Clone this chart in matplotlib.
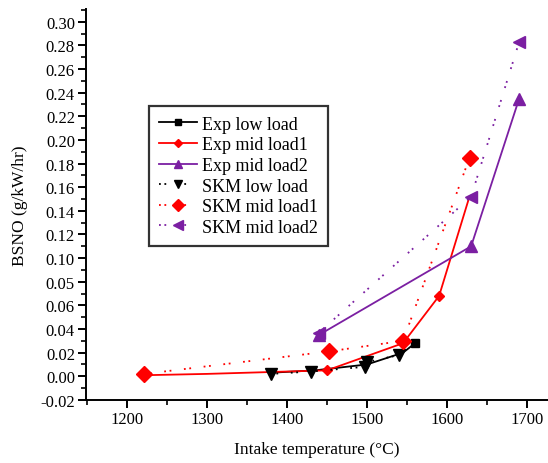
import matplotlib
matplotlib.use('Agg')
from matplotlib import pyplot as plt
from matplotlib.ticker import MultipleLocator

# data
exp_low_x = [1380, 1435, 1500, 1545, 1560]
exp_low_y = [0.003, 0.005, 0.010, 0.020, 0.028]
exp_mid1_x = [1230, 1300, 1450, 1545, 1590, 1627]
exp_mid1_y = [0.001, 0.002, 0.005, 0.028, 0.068, 0.150]
exp_mid2_x = [1440, 1630, 1690]
exp_mid2_y = [0.035, 0.110, 0.235]
skm_low_x = [1380, 1430, 1497, 1500, 1540]
skm_low_y = [0.002, 0.004, 0.008, 0.012, 0.018]
skm_mid1_x = [1222, 1452, 1545, 1628]
skm_mid1_y = [0.002, 0.021, 0.030, 0.185]
skm_mid2_x = [1440, 1630, 1690]
skm_mid2_y = [0.037, 0.152, 0.283]

ytick_vals = [-0.02, 0.00, 0.02, 0.04, 0.06, 0.08, 0.10, 0.12, 0.14,
              0.16, 0.18, 0.20, 0.22, 0.24, 0.26, 0.28, 0.30]
ytick_labels = ['-0.02', '0.00', '0.02', '0.04', '0.06', '0.05', '0.10',
                '0.12', '0.14', '0.16', '0.18', '0.20', '0.22', '0.24',
                '0.26', '0.28', '0.30']

plt.rcParams['font.family'] = ['Liberation Serif', 'DejaVu Serif']

purple = '#7b1fa2'
dots = (0, (1, 2, 1, 7))

fig = plt.figure(figsize=(5.48, 4.64), dpi=100)
ax = fig.add_axes([0.157, 0.136, 0.843, 0.843])

ax.plot(exp_low_x, exp_low_y, '-', color='black', lw=1.3,
        marker='s', ms=6, markevery=[4], label='Exp low load')
ax.plot(exp_mid1_x, exp_mid1_y, '-', color='red', lw=1.3,
        marker='D', ms=5, markevery=[2, 4], label='Exp mid load1')
ax.plot(exp_mid2_x, exp_mid2_y, '-', color=purple, lw=1.3,
        marker='^', ms=8, label='Exp mid load2')
ax.plot(skm_low_x, skm_low_y, linestyle=dots, color='black', lw=1.3,
        marker='v', ms=8, label='SKM low load')
ax.plot(skm_mid1_x, skm_mid1_y, linestyle=dots, color='red', lw=1.3,
        marker='D', ms=8, label='SKM mid load1')
ax.plot(skm_mid2_x, skm_mid2_y, linestyle=dots, color=purple, lw=1.3,
        marker='<', ms=9, label='SKM mid load2')

ax.set_xlim(1149, 1726)
ax.set_ylim(-0.02, 0.311)
ax.set_yticks(ytick_vals)
ax.set_yticklabels(ytick_labels)
ax.xaxis.set_major_locator(MultipleLocator(100))
ax.xaxis.set_minor_locator(MultipleLocator(50))
ax.yaxis.set_minor_locator(MultipleLocator(0.01))
ax.tick_params(which='major', direction='out', length=6, width=1.4,
               labelsize=12, pad=2)
ax.tick_params(which='minor', direction='out', length=3.5, width=1.2)

for side in ('top', 'right'):
    ax.spines[side].set_visible(False)
for side in ('left', 'bottom'):
    ax.spines[side].set_linewidth(1.4)

ax.set_xlabel('Intake temperature (°C)', fontsize=12.5, labelpad=10)
ax.set_ylabel('BSNO (g/kW/hr)', fontsize=12.5, labelpad=9)

leg = ax.legend(loc='upper left', bbox_to_anchor=(0.136, 0.752),
                fontsize=13, frameon=True, fancybox=False,
                handlelength=2.1, borderpad=0.55, labelspacing=0.2,
                handletextpad=0.3, markerscale=0.8, borderaxespad=0)
leg.get_frame().set_edgecolor('black')
leg.get_frame().set_linewidth(1.6)

plt.savefig('out.png', dpi=100)
